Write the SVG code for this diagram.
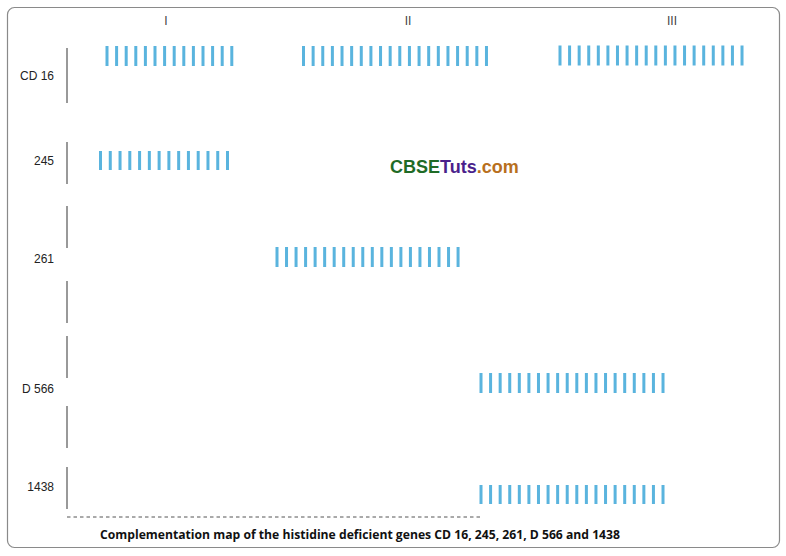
<svg xmlns="http://www.w3.org/2000/svg" width="786" height="556" viewBox="0 0 786 556">
<style>
.lbl{font-family:"Liberation Sans",Arial,sans-serif;font-size:12px;fill:#222;text-anchor:end}
.hdr{font-family:"Liberation Sans",Arial,sans-serif;font-size:12px;fill:#444;text-anchor:middle}
.axis{stroke:#555;stroke-width:1.2}
.bar{stroke:#5ab4de;fill:none}
.cap{font-family:"Open Sans","Liberation Sans",Arial,sans-serif;font-size:12px;font-weight:bold;fill:#111}
.wm{font-family:"Liberation Sans",Arial,sans-serif;font-size:18px;font-weight:bold}
</style>
<rect x="0" y="0" width="786" height="556" fill="#ffffff"/>
<rect x="7.5" y="7.5" width="772" height="540" rx="7" ry="7" fill="#ffffff" stroke="#8a8a8a" stroke-width="1.2"/>
<g id="headers">
<text class="hdr" x="166" y="25">I</text>
<text class="hdr" x="408" y="25">II</text>
<text class="hdr" x="672" y="25">III</text>
</g>
<g id="watermark">
<text class="wm" x="390" y="173"><tspan fill="#1f6b26">CBSE</tspan><tspan fill="#4a1f8c">Tuts</tspan><tspan fill="#b8701e">.com</tspan></text>
</g>
<g id="row-cd16">
<text class="lbl" x="54" y="80">CD 16</text>
<line class="axis" x1="67" y1="48" x2="67" y2="103"/>
<line class="bar" x1="105.5" y1="56" x2="233.3" y2="56" stroke-width="20" stroke-dasharray="3 6.6"/>
<line class="bar" x1="302" y1="56" x2="488" y2="56" stroke-width="20" stroke-dasharray="3 6.63"/>
<line class="bar" x1="558.5" y1="55.5" x2="743.6" y2="55.5" stroke-width="20" stroke-dasharray="3 6.58"/>
</g>
<g id="row-245">
<text class="lbl" x="54" y="165">245</text>
<line class="axis" x1="67" y1="142" x2="67" y2="184"/>
<line class="bar" x1="99" y1="160.5" x2="229" y2="160.5" stroke-width="19" stroke-dasharray="3 6.77"/>
</g>
<g id="row-261">
<text class="lbl" x="54" y="263">261</text>
<line class="axis" x1="67" y1="206" x2="67" y2="248"/>
<line class="axis" x1="67" y1="281" x2="67" y2="323"/>
<line class="bar" x1="275.5" y1="257" x2="459.6" y2="257" stroke-width="20" stroke-dasharray="3 6.53"/>
</g>
<g id="row-d566">
<text class="lbl" x="54" y="393">D 566</text>
<line class="axis" x1="67" y1="336" x2="67" y2="378"/>
<line class="axis" x1="67" y1="406" x2="67" y2="448"/>
<line class="bar" x1="479.5" y1="383" x2="664.6" y2="383" stroke-width="20" stroke-dasharray="3 6.58"/>
</g>
<g id="row-1438">
<text class="lbl" x="54" y="491">1438</text>
<line class="axis" x1="67" y1="467" x2="67" y2="509"/>
<line class="bar" x1="479.5" y1="494.5" x2="664.6" y2="494.5" stroke-width="19" stroke-dasharray="3 6.58"/>
</g>
<g id="connectors">
<line x1="67" y1="517" x2="482" y2="517" stroke="#555" stroke-width="1" stroke-dasharray="3.5 3"/>
</g>
<g id="caption">
<text class="cap" x="100" y="539" textLength="520" lengthAdjust="spacingAndGlyphs">Complementation map of the histidine deficient genes CD 16, 245, 261, D 566 and 1438</text>
</g>
</svg>
